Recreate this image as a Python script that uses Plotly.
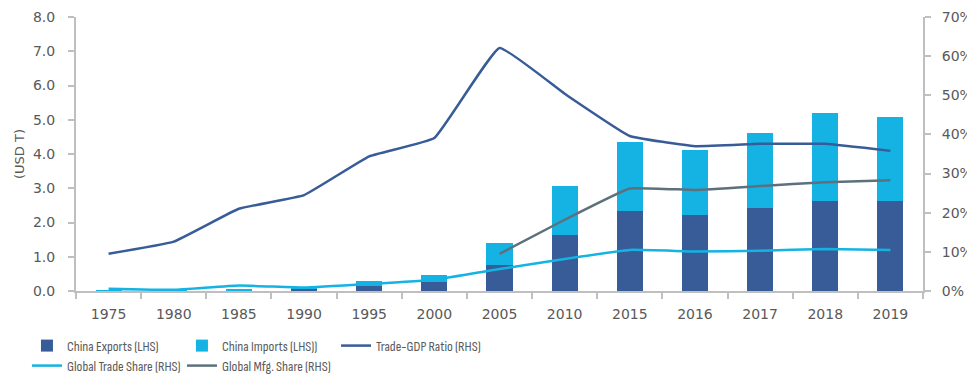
import plotly.graph_objects as go

years = ["1975", "1980", "1985", "1990", "1995", "2000", "2005", "2010",
         "2015", "2016", "2017", "2018", "2019"]
exports_usd_t = [0.007, 0.018, 0.027, 0.062, 0.15, 0.25, 0.77, 1.63,
                 2.35, 2.21, 2.41, 2.64, 2.64]
imports_usd_t = [0.007, 0.020, 0.042, 0.053, 0.13, 0.22, 0.63, 1.44,
                 2.01, 1.92, 2.20, 2.55, 2.45]
trade_gdp_ratio = [0.095, 0.126, 0.210, 0.245, 0.344, 0.391, 0.621, 0.504,
                   0.396, 0.370, 0.376, 0.376, 0.358]
global_trade_share = [0.006, 0.003, 0.014, 0.009, 0.018, 0.029, 0.056, 0.082,
                      0.105, 0.101, 0.103, 0.107, 0.105]
global_mfg_share = [None, None, None, None, None, None, 0.095, 0.182,
                    0.262, 0.258, 0.268, 0.278, 0.283]

C_EXP = "#375C97"
C_IMP = "#14B3E3"
C_GDP = "#375C97"
C_GTS = "#14B3E3"
C_MFG = "#5D717D"
TXT = "#595959"
AX = "#BFBFBF"
TICKFONT = dict(family="DejaVu Sans", size=14, color=TXT)
LEGFONT = dict(family="Sofia Sans Condensed, Archivo Narrow, sans-serif", size=14, color=TXT)

fig = go.Figure()
fig.add_trace(go.Bar(x=years, y=exports_usd_t, name="China Exports (LHS)",
                     marker=dict(color=C_EXP, line=dict(width=0)), yaxis="y", legend="legend"))
fig.add_trace(go.Bar(x=years, y=imports_usd_t, name="China Imports (LHS))",
                     marker=dict(color=C_IMP, line=dict(width=0)), yaxis="y", legend="legend2"))
fig.add_trace(go.Scatter(x=years, y=trade_gdp_ratio, name="Trade-GDP Ratio (RHS)", mode="lines",
                         line=dict(color=C_GDP, width=2.5, shape="spline", smoothing=0.3),
                         yaxis="y2", legend="legend3"))
fig.add_trace(go.Scatter(x=years, y=global_trade_share, name="Global Trade Share (RHS)", mode="lines",
                         line=dict(color=C_GTS, width=2.5, shape="spline", smoothing=0.3),
                         yaxis="y2", legend="legend4"))
fig.add_trace(go.Scatter(x=years, y=global_mfg_share, name="Global Mfg. Share (RHS)", mode="lines",
                         line=dict(color=C_MFG, width=2.5, shape="spline", smoothing=0.3),
                         yaxis="y2", legend="legend5", connectgaps=False))

def leg(x, y):
    return dict(orientation="h", x=x, xanchor="left", y=y, yanchor="middle",
                font=LEGFONT, bgcolor="rgba(0,0,0,0)")

# page body has an 8px default margin; the figure is sized to fill the rest of the window
fig.update_layout(
    width=967, height=371,
    margin=dict(l=68, r=52, t=9, b=88, autoexpand=False),
    paper_bgcolor="white", plot_bgcolor="white",
    barmode="stack", bargap=0.6,
    showlegend=True,
    xaxis=dict(type="category", showgrid=False, showline=True, linecolor=AX, linewidth=2,
               ticks="outside", tickson="boundaries", ticklen=6, tickcolor=AX, tickwidth=2,
               tickfont=TICKFONT, ticklabelstandoff=9, zeroline=False, automargin=False,
               ticklabeloverflow="allow"),
    yaxis=dict(range=[0, 8], dtick=1, tickformat=".1f", showgrid=False, showline=True,
               linecolor=AX, linewidth=2, ticks="outside", ticklen=6, tickcolor=AX, tickwidth=2,
               tickfont=TICKFONT, ticklabelstandoff=10, zeroline=False, automargin=False,
               ticklabeloverflow="allow",
               title=dict(text="(USD T)", font=dict(family="DejaVu Sans", size=13, color=TXT), standoff=5)),
    yaxis2=dict(range=[0, 0.7], dtick=0.1, tickformat=".0%", overlaying="y", side="right",
                showgrid=False, showline=True, linecolor=AX, linewidth=2, ticks="outside",
                ticklen=6, tickcolor=AX, tickwidth=2, tickfont=TICKFONT, ticklabelstandoff=8,
                zeroline=False, automargin=False, ticklabeloverflow="allow"),
    legend=leg(-0.0579, -0.2007),
    legend2=leg(0.1251, -0.2007),
    legend3=leg(0.3070, -0.2007),
    legend4=leg(-0.0579, -0.2737),
    legend5=leg(0.1251, -0.2737),
)

fig.write_html("out.html")
